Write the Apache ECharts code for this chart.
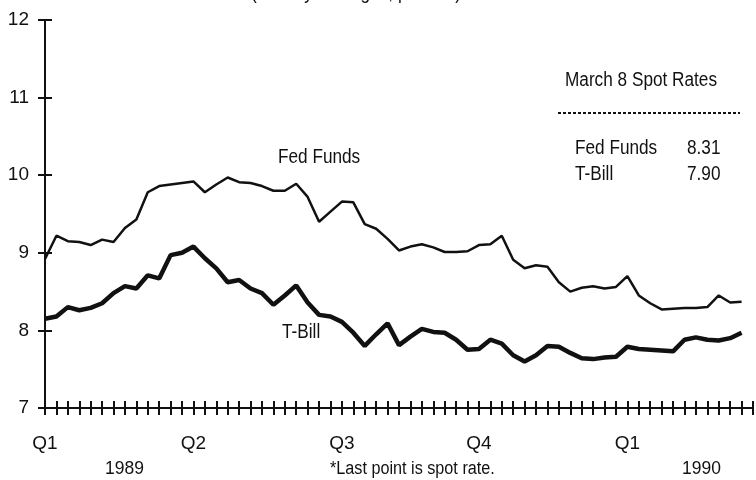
<!DOCTYPE html>
<html>
<head>
<meta charset="utf-8">
<script src="https://cdn.jsdelivr.net/npm/echarts@6/dist/echarts.min.js"></script>
<style>
html, body { margin: 0; padding: 0; background: #fff; }
#chart { width: 756px; height: 480px; }
</style>
</head>
<body>
<div id="chart"></div>
<script>
// weekly averages, Jan 1989 - Mar 1990 (last point is the spot rate)
var fedFunds = [8.92, 9.22, 9.15, 9.14, 9.10, 9.17, 9.14, 9.32, 9.43, 9.78,
    9.86, 9.88, 9.90, 9.92, 9.78, 9.88, 9.97, 9.91, 9.90, 9.86,
    9.80, 9.80, 9.89, 9.72, 9.40, 9.53, 9.66, 9.65, 9.37, 9.31,
    9.18, 9.03, 9.08, 9.11, 9.07, 9.01, 9.01, 9.02, 9.10, 9.11,
    9.22, 8.91, 8.80, 8.84, 8.82, 8.62, 8.50, 8.55, 8.57, 8.54,
    8.56, 8.70, 8.45, 8.35, 8.27, 8.28, 8.29, 8.29, 8.30, 8.45,
    8.36, 8.37];
var tBill = [8.15, 8.18, 8.30, 8.26, 8.29, 8.35, 8.48, 8.57, 8.54, 8.71,
    8.67, 8.97, 9.00, 9.08, 8.93, 8.80, 8.62, 8.65, 8.54, 8.48,
    8.33, 8.45, 8.58, 8.36, 8.20, 8.18, 8.11, 7.97, 7.80, 7.95,
    8.09, 7.81, 7.92, 8.02, 7.98, 7.97, 7.88, 7.75, 7.76, 7.88,
    7.83, 7.68, 7.60, 7.68, 7.80, 7.79, 7.71, 7.64, 7.63, 7.65,
    7.66, 7.79, 7.76, 7.75, 7.74, 7.73, 7.88, 7.91, 7.88, 7.87,
    7.90, 7.97];
var quarterWeeks = [0, 13, 26, 38, 51];
var quarterNames = ['Q1', 'Q2', 'Q3', 'Q4', 'Q1'];
var spotNames = ['Fed Funds', 'T-Bill'];
var spotValues = ['8.31', '7.90'];

var FONT = '"Liberation Sans Narrow", "Liberation Sans", Arial, sans-serif';
var INK = '#111';

function pairs(arr) {
    return arr.map(function (v, i) { return [i, v]; });
}

// condensed look: wider glyph size squeezed horizontally
function txt(x, y, s, size, sx) {
    return {
        type: 'text', x: x, y: y, scaleX: sx || 0.86,
        style: { text: s, fill: INK, font: size + 'px ' + FONT, textAlign: 'left', textVerticalAlign: 'top' }
    };
}

var myChart = echarts.init(document.getElementById('chart'));

var graphics = [
    txt(251, -17, '(Weekly averages, percent)', 20),
    txt(278, 147, 'Fed Funds', 20),
    txt(282, 322, 'T-Bill', 20),
    txt(565, 70, 'March 8 Spot Rates', 20),
    txt(105, 459, '1989', 19, 0.92),
    txt(330, 460, '*Last point is spot rate.', 18, 0.9),
    txt(682, 459, '1990', 19, 0.92),
    {
        type: 'line',
        shape: { x1: 558, y1: 113, x2: 740, y2: 113 },
        style: { stroke: INK, lineWidth: 2, lineDash: [3, 2] }
    }
];
spotNames.forEach(function (n, i) {
    graphics.push(txt(575, 138 + i * 26, n, 20));
    graphics.push(txt(687, 138 + i * 26, spotValues[i], 20));
});

myChart.setOption({
    backgroundColor: '#fff',
    animation: false,
    grid: { left: 45, right: 3, top: 20, bottom: 72 },
    xAxis: [{ // outer ticks + quarter labels
        type: 'value', min: 0, max: 62, interval: 1, position: 'bottom',
        axisLine: { lineStyle: { color: INK, width: 2 } },
        axisTick: { length: 7, lineStyle: { color: INK, width: 2 } },
        splitLine: { show: false },
        axisLabel: {
            margin: 26, color: INK, fontFamily: FONT, fontSize: 19,
            formatter: function (v) {
                var k = quarterWeeks.indexOf(v);
                return k < 0 ? '' : quarterNames[k];
            }
        }
    }, { // inner half of the crossing ticks
        type: 'value', min: 0, max: 62, interval: 1, position: 'bottom',
        axisLine: { show: false },
        axisTick: { inside: true, length: 7, lineStyle: { color: INK, width: 2 } },
        splitLine: { show: false },
        axisLabel: { show: false }
    }],
    yAxis: [{
        type: 'value', min: 7, max: 12, interval: 1, position: 'left',
        axisLine: { show: true, lineStyle: { color: INK, width: 2 } },
        axisTick: { show: true, length: 7, lineStyle: { color: INK, width: 2 } },
        splitLine: { show: false },
        axisLabel: { margin: 16, color: INK, fontFamily: FONT, fontSize: 19 }
    }, {
        type: 'value', min: 7, max: 12, interval: 1, position: 'left',
        axisLine: { show: false },
        axisTick: { show: true, inside: true, length: 7, lineStyle: { color: INK, width: 2 } },
        splitLine: { show: false },
        axisLabel: { show: false }
    }],
    series: [{
        name: 'Fed Funds',
        type: 'line',
        showSymbol: false,
        lineStyle: { color: INK, width: 2.5 },
        data: pairs(fedFunds)
    }, {
        name: 'T-Bill',
        type: 'line',
        showSymbol: false,
        lineStyle: { color: INK, width: 4.5 },
        data: pairs(tBill)
    }],
    graphic: graphics
});
</script>
</body>
</html>
